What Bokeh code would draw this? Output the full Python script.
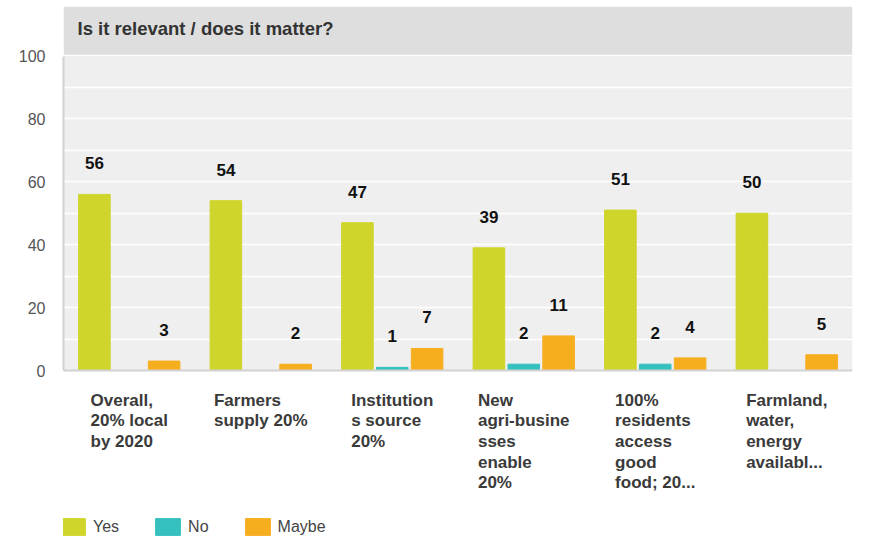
from bokeh.plotting import figure
from bokeh.models import (ColumnDataSource, FactorRange, Range1d, FixedTicker, BoxAnnotation,
                          Span, Label, Legend, LegendItem)
from bokeh.transform import dodge
from bokeh.core.properties import value
from bokeh.embed import file_html
from bokeh.resources import INLINE

# ---------------- data ----------------
categories = ["Overall, 20% local by 2020", "Farmers supply 20%", "Institutions source 20%",
              "New agri-businesses enable 20%", "100% residents access good food; 20...",
              "Farmland, water, energy availabl..."]
category_labels = ["Overall,\n20% local\nby 2020",
                   "Farmers\nsupply 20%",
                   "Institution\ns source\n20%",
                   "New\nagri-busine\nsses\nenable\n20%",
                   "100%\nresidents\naccess\ngood\nfood; 20...",
                   "Farmland,\nwater,\nenergy\navailabl..."]
yes_values = [56, 54, 47, 39, 51, 50]
no_values = [0, 0, 1, 2, 2, 0]
maybe_values = [3, 2, 7, 11, 4, 5]
series_names = ["Yes", "No", "Maybe"]
y_ticks = [0, 20, 40, 60, 80, 100]
title_text = "Is it relevant / does it matter?"

colors = {"Yes": "#cfd52b", "No": "#35c0c0", "Maybe": "#f6ae1f"}
offsets = {"Yes": -0.265, "No": 0.0, "Maybe": 0.265}
FONT = "Liberation Sans"

p = figure(width=871, height=537, output_backend="svg", toolbar_location=None,
           x_range=FactorRange(factors=categories, range_padding=0),
           y_range=Range1d(-53.1, 117.65),
           x_axis_location=None, y_axis_location="left",
           min_border_left=63, min_border_right=19, min_border_top=0, min_border_bottom=0)
p.outline_line_color = None
p.background_fill_color = "white"
p.border_fill_color = "white"

# plot area & title band
p.add_layout(BoxAnnotation(bottom=0, top=100, fill_color="#efefef", fill_alpha=1,
                           line_color=None, level="image"))
p.add_layout(BoxAnnotation(bottom=100.4, top=115.7, fill_color="#dedede", fill_alpha=1,
                           line_color=None, level="image"))

# grid
p.xgrid.grid_line_color = None
p.ygrid.ticker = FixedTicker(ticks=[10, 20, 30, 40, 50, 60, 70, 80, 90])
p.ygrid.grid_line_color = "white"
p.ygrid.grid_line_width = 1.5

# y axis
ax = p.yaxis[0]
ax.ticker = FixedTicker(ticks=y_ticks)
ax.bounds = (0, 100)
ax.axis_line_color = "#d2d2d2"
ax.axis_line_width = 2
ax.major_tick_line_color = None
ax.minor_tick_line_color = None
ax.major_label_standoff = 12
ax.major_label_text_font = FONT
ax.major_label_text_font_size = "16px"
ax.major_label_text_color = "#555555"

p.add_layout(Span(location=0, dimension="width", line_color="#d2d2d2", line_width=2))

# bars and value labels
data = {"cat": categories, "Yes": yes_values, "No": no_values, "Maybe": maybe_values}
for s in series_names:
    data[s + "_lab"] = [str(v) if v else "" for v in data[s]]
src = ColumnDataSource(data)

legend_items = []
for s in series_names:
    r = p.vbar(x=dodge("cat", offsets[s], range=p.x_range), top=s, width=0.24, source=src,
               fill_color=colors[s], line_color=colors[s], line_width=1)
    legend_items.append(LegendItem(label=s, renderers=[r]))
    p.text(x=dodge("cat", offsets[s], range=p.x_range), y=s, text=s + "_lab", source=src,
           text_font=value(FONT), text_font_size="17px", text_font_style="bold",
           text_color="#111111", text_align="center", text_baseline="alphabetic",
           y_offset=-31)

# category labels (below the axis)
lab_src = ColumnDataSource({"cat": categories, "lab": category_labels,
                            "y": [0] * len(categories)})
p.text(x="cat", y="y", text="lab", source=lab_src, anchor="top_center", text_align="left",
       text_font=value(FONT), text_font_size="17px", text_font_style="bold",
       text_color="#3a3a3a", text_line_height=1.09, y_offset=20)

# title
p.add_layout(Label(x=0, y=108.7, x_offset=14, text=title_text, text_font=FONT,
                   text_font_size="18.5px", text_font_style="bold", text_color="#333333",
                   text_baseline="middle", text_align="left"))

legend = Legend(items=legend_items, orientation="horizontal", location=(-6, 0),
                glyph_width=31, glyph_height=21, label_standoff=5, spacing=33,
                padding=0, margin=0, border_line_color=None, background_fill_alpha=0,
                label_text_font=FONT, label_text_font_size="16px", label_text_color="#444444")
p.add_layout(legend)

open("out.html", "w").write(file_html(p, INLINE))
